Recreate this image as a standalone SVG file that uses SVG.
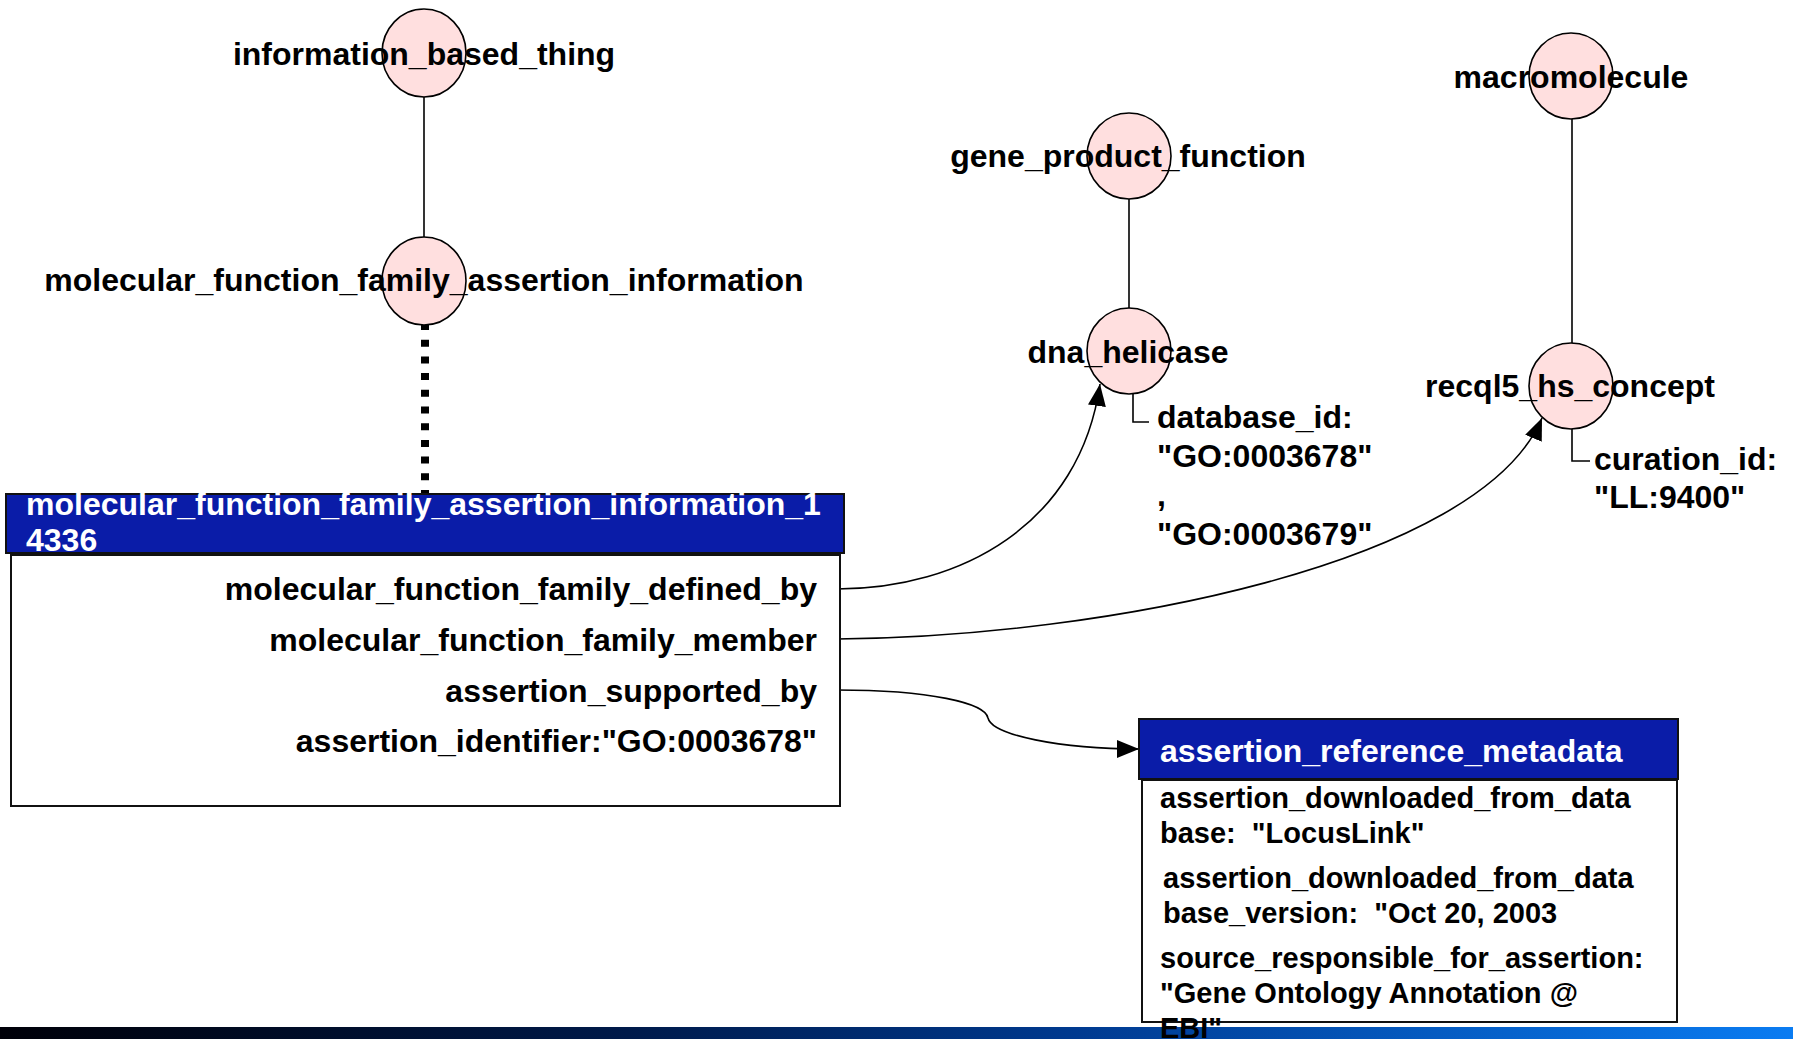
<svg xmlns="http://www.w3.org/2000/svg" width="1793" height="1039" viewBox="0 0 1793 1039">
  <style>
    text { font-family: "Liberation Sans", Arial, Helvetica, sans-serif; font-weight: bold; font-size: 32px; fill: #000; }
    .lbl { text-anchor: middle; }
    .hdr { fill: #ffffff; }
    .attr { text-anchor: end; }
    .meta { font-size: 29px; }
    .concept { fill: #ffdfdf; stroke: #000; stroke-width: 1.6; }
    .head { fill: #0a1ca8; stroke: #111; stroke-width: 2; }
    .body { fill: #ffffff; stroke: #111; stroke-width: 2; }
    .edge { fill: none; stroke: #000; stroke-width: 1.6; }
    .link { fill: none; stroke: #000; stroke-width: 1.6; marker-end: url(#arrow); }
    .inst { fill: none; stroke: #000; stroke-width: 8; stroke-dasharray: 7 9.7; }
  </style>
  <defs>
    <marker id="arrow" viewBox="0 0 22 18" refX="22" refY="9" markerWidth="22" markerHeight="18" markerUnits="userSpaceOnUse" orient="auto">
      <path d="M0,0 L22,9 L0,18 Z" fill="#000"/>
    </marker>
    <linearGradient id="footer" x1="0" y1="0" x2="1" y2="0">
      <stop offset="0" stop-color="#000008"/>
      <stop offset="0.35" stop-color="#001a4a"/>
      <stop offset="0.6" stop-color="#003a90"/>
      <stop offset="1" stop-color="#0a7cf2"/>
    </linearGradient>
  </defs>

  <!-- footer band -->
  <rect x="0" y="1027" width="1793" height="12" fill="url(#footer)"/>

  <!-- connectors -->
  <g id="connectors">
    <line class="edge" x1="424" y1="97" x2="424" y2="238"/>
    <line class="edge" x1="1129" y1="199" x2="1129" y2="308"/>
    <line class="edge" x1="1572" y1="119" x2="1572" y2="343"/>
    <line class="inst" x1="425" y1="323" x2="425" y2="494"/>
    <path class="edge" d="M1133,393 V422 H1149"/>
    <path class="edge" d="M1572,429 V461 H1590"/>
    <path class="link" d="M837,589 C960,589 1080,525 1100,384"/>
    <path class="link" d="M837,639 C1100,637 1480,565 1542,418"/>
    <path class="link" d="M837,690 C930,690 985,703 988,718 C992,735 1060,749 1139,749"/>
  </g>

  <!-- concept nodes -->
  <g id="information_based_thing">
    <ellipse class="concept" cx="424" cy="53" rx="42" ry="44"/>
    <text class="lbl" x="424" y="65">information_based_thing</text>
  </g>
  <g id="molecular_function_family_assertion_information">
    <ellipse class="concept" cx="424" cy="281" rx="42" ry="44"/>
    <text class="lbl" x="424" y="291">molecular_function_family_assertion_information</text>
  </g>
  <g id="gene_product_function">
    <ellipse class="concept" cx="1129" cy="156" rx="42" ry="43"/>
    <text class="lbl" x="1128" y="167">gene_product_function</text>
  </g>
  <g id="dna_helicase">
    <ellipse class="concept" cx="1129" cy="351" rx="42" ry="43"/>
    <text class="lbl" x="1128" y="363">dna_helicase</text>
    <text x="1157" y="428">database_id:</text>
    <text x="1157" y="467">"GO:0003678"</text>
    <text x="1157" y="506">,</text>
    <text x="1157" y="545">"GO:0003679"</text>
  </g>
  <g id="macromolecule">
    <ellipse class="concept" cx="1571" cy="76" rx="42" ry="43"/>
    <text class="lbl" x="1571" y="88">macromolecule</text>
  </g>
  <g id="recql5_hs_concept">
    <ellipse class="concept" cx="1571" cy="386" rx="42" ry="43"/>
    <text class="lbl" x="1570" y="397">recql5_hs_concept</text>
    <text x="1594" y="470">curation_id:</text>
    <text x="1594" y="508">"LL:9400"</text>
  </g>

  <!-- instance frame -->
  <g id="molecular_function_family_assertion_information_14336">
    <rect class="body" x="11" y="555" width="829" height="251"/>
    <rect class="head" x="6" y="494" width="838" height="59"/>
    <text class="hdr" x="26" y="515">molecular_function_family_assertion_information_1</text>
    <text class="hdr" x="26" y="551">4336</text>
    <text class="attr" x="817" y="600">molecular_function_family_defined_by</text>
    <text class="attr" x="817" y="651">molecular_function_family_member</text>
    <text class="attr" x="817" y="702">assertion_supported_by</text>
    <text class="attr" x="817" y="752">assertion_identifier:"GO:0003678"</text>
  </g>

  <!-- metadata frame -->
  <g id="assertion_reference_metadata">
    <rect class="body" x="1142" y="780" width="535" height="242"/>
    <rect class="head" x="1139" y="719" width="539" height="60"/>
    <text class="hdr" x="1160" y="762">assertion_reference_metadata</text>
    <text class="meta" x="1160" y="808">assertion_downloaded_from_data</text>
    <text class="meta" x="1160" y="843" xml:space="preserve">base:  "LocusLink"</text>
    <text class="meta" x="1163" y="888">assertion_downloaded_from_data</text>
    <text class="meta" x="1163" y="923" xml:space="preserve">base_version:  "Oct 20, 2003</text>
    <text class="meta" x="1160" y="968">source_responsible_for_assertion:</text>
    <text class="meta" x="1160" y="1003">"Gene Ontology Annotation @</text>
    <text class="meta" x="1160" y="1038">EBI"</text>
  </g>
</svg>
